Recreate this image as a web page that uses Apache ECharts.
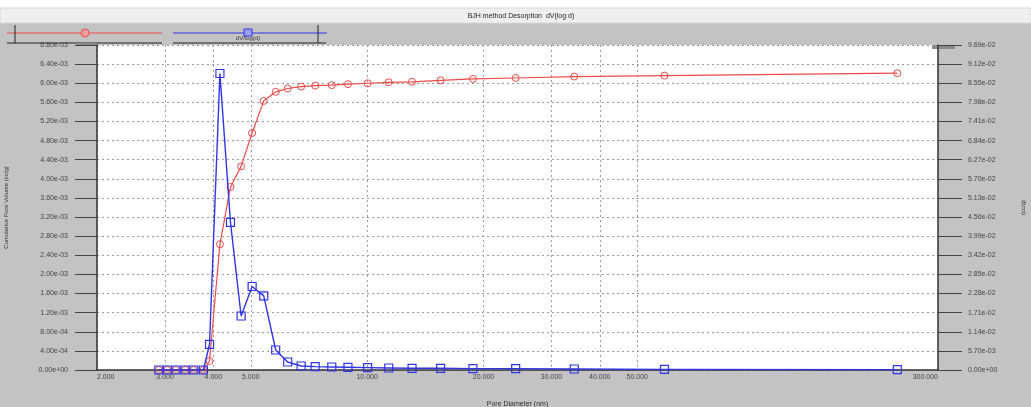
<!DOCTYPE html>
<html>
<head>
<meta charset="utf-8">
<script src="https://cdn.jsdelivr.net/npm/echarts@6/dist/echarts.min.js"></script>
<style>
html,body{margin:0;padding:0;background:#c3c3c3;}
#chart{width:1031px;height:407px;}
</style>
</head>
<body>
<div id="chart"></div>
<script>
// ---- data ----
const poreDiameter = [2.89, 3.04, 3.20, 3.38, 3.56, 3.77, 3.91, 4.16, 4.43, 4.72, 5.04, 5.40, 5.80, 6.23, 6.75, 7.34, 8.10, 8.92, 10.03, 11.37, 13.07, 15.49, 18.78, 24.23, 34.34, 58.8, 235.4];
const cumulativeVolume = [0, 0, 0, 0, 0, 0, 1.88e-4, 2.63e-3, 3.83e-3, 4.26e-3, 4.96e-3, 5.63e-3, 5.82e-3, 5.89e-3, 5.93e-3, 5.95e-3, 5.96e-3, 5.98e-3, 6.00e-3, 6.02e-3, 6.03e-3, 6.06e-3, 6.09e-3, 6.11e-3, 6.14e-3, 6.16e-3, 6.21e-3];
const dVlogd = [0, 0, 0, 0, 0, 0, 7.67e-3, 8.84e-2, 4.40e-2, 1.61e-2, 2.49e-2, 2.21e-2, 5.97e-3, 2.39e-3, 1.19e-3, 1.0e-3, 9e-4, 8e-4, 7e-4, 6e-4, 5e-4, 5e-4, 4e-4, 4e-4, 3e-4, 2e-4, 1e-4];
const xTicks = [2, 3, 4, 5, 10, 20, 30, 40, 50, 300];
const leftMax = 6.8e-3, leftStep = 4e-4;
const rightMax = 9.69e-2, rightStep = 5.7e-3;
const titleText = 'BJH method Desorption  dV(log d)';
const legendBlueText = 'dV/log(d)';
const xName = 'Pore Diameter (nm)';
const leftName = 'Cumulative Pore Volume (cc/g)';
const rightName = '(cc/g)';

function sci(v) {
  const s = Number(v).toExponential(2);
  const parts = s.split('e');
  let sign = parts[1][0];
  let d = parts[1].slice(1);
  if (d.length < 2) d = '0' + d;
  return parts[0] + 'e' + sign + d;
}

const FONT = 'Liberation Sans';
const chart = echarts.init(document.getElementById('chart'), null, {renderer: 'canvas'});
const RED = '#ee4a4a', BLUE = '#2f35e6';

const option = {
  backgroundColor: '#c3c3c3',
  animation: false,
  textStyle: {fontFamily: FONT},
  grid: {left: 97, right: 93, top: 45, bottom: 37, show: true, backgroundColor: '#ffffff', borderWidth: 0,
         containLabel: false, outerBoundsMode: 'none'},
  xAxis: {
    type: 'log', logBase: 10, min: 2, max: 300,
    name: xName, nameLocation: 'middle', nameGap: 31,
    nameTextStyle: {fontSize: 7, color: '#333'},
    axisLine: {onZero: false, lineStyle: {color: '#333', width: 1.5}},
    axisTick: {show: false, customValues: xTicks},
    axisLabel: {customValues: xTicks, fontSize: 7, color: '#444', margin: 4,
      formatter: v => Number(v).toFixed(3), alignMinLabel: 'left', alignMaxLabel: 'right', showMinLabel: true, showMaxLabel: true},
    splitLine: {show: true, lineStyle: {color: '#9a9a9a', type: [2, 3], width: 1}},
    minorTick: {show: false}, minorSplitLine: {show: false}
  },
  yAxis: [
    {
      type: 'value', min: 0, max: leftMax, interval: leftStep, position: 'left',
      name: leftName, nameLocation: 'middle', nameGap: 88,
      nameTextStyle: {fontSize: 6, color: '#333'},
      axisLine: {show: true, lineStyle: {color: '#333', width: 1.5}},
      axisTick: {show: true, length: 22, lineStyle: {color: '#444'}},
      axisLabel: {fontSize: 7, color: '#444', margin: 29, formatter: sci},
      splitLine: {show: true, lineStyle: {color: '#9a9a9a', type: [2, 3], width: 1}}
    },
    {
      type: 'value', min: 0, max: rightMax, interval: rightStep, position: 'right',
      name: rightName, nameLocation: 'middle', nameGap: 82,
      nameTextStyle: {fontSize: 6, color: '#333'},
      axisLine: {show: true, lineStyle: {color: '#333', width: 1.5}},
      axisTick: {show: true, length: 24, lineStyle: {color: '#444'}},
      axisLabel: {fontSize: 7, color: '#444', margin: 30, formatter: sci},
      splitLine: {show: false}
    }
  ],
  series: [
    {
      name: 'Cumulative', type: 'line', yAxisIndex: 0,
      data: poreDiameter.map((x, i) => [x, cumulativeVolume[i]]),
      symbol: 'circle', symbolSize: 7, showAllSymbol: true,
      itemStyle: {color: 'rgba(255,255,255,0)', borderColor: RED, borderWidth: 1},
      lineStyle: {color: RED, width: 1.2}, z: 3
    },
    {
      name: 'dV/log(d)', type: 'line', yAxisIndex: 1,
      data: poreDiameter.map((x, i) => [x, dVlogd[i]]),
      symbol: 'rect', symbolSize: 8, showAllSymbol: true,
      itemStyle: {color: 'rgba(255,255,255,0)', borderColor: BLUE, borderWidth: 1.2},
      lineStyle: {color: BLUE, width: 1.4}, z: 4
    }
  ],
  graphic: [
    {type: 'rect', shape: {x: 0, y: 0, width: 1031, height: 8}, style: {fill: '#ffffff'}, silent: true},
    {type: 'rect', shape: {x: 0, y: 8, width: 1031, height: 15}, style: {fill: '#efefef', stroke: '#d8d8d8', lineWidth: 1}, silent: true},
    {type: 'text', x: 521, y: 16, style: {text: titleText, font: '7px "Liberation Sans"', fill: '#222', align: 'center', verticalAlign: 'middle'}, silent: true},
    // legend decoration
    {type: 'line', shape: {x1: 7, y1: 33, x2: 162, y2: 33}, style: {stroke: RED, lineWidth: 1.2}, silent: true},
    {type: 'circle', shape: {cx: 85, cy: 33, r: 4}, style: {fill: '#f4a0a0', stroke: RED, lineWidth: 1}, silent: true},
    {type: 'line', shape: {x1: 173, y1: 33, x2: 327, y2: 33}, style: {stroke: BLUE, lineWidth: 1.2}, silent: true},
    {type: 'rect', shape: {x: 244, y: 29, width: 8, height: 7}, style: {fill: '#9aa0f0', stroke: BLUE, lineWidth: 1}, silent: true},
    {type: 'text', x: 248, y: 38.5, style: {text: legendBlueText, font: '6px "Liberation Sans"', fill: '#333', align: 'center', verticalAlign: 'middle'}, silent: true},
    {type: 'line', shape: {x1: 7, y1: 43, x2: 162, y2: 43}, style: {stroke: '#222', lineWidth: 1}, silent: true},
    {type: 'line', shape: {x1: 173, y1: 43, x2: 326, y2: 43}, style: {stroke: '#222', lineWidth: 1}, silent: true},
    {type: 'line', shape: {x1: 15, y1: 25, x2: 15, y2: 43}, style: {stroke: '#222', lineWidth: 1}, silent: true},
    {type: 'line', shape: {x1: 318, y1: 25, x2: 318, y2: 43}, style: {stroke: '#222', lineWidth: 1}, silent: true},
    {type: 'rect', shape: {x: 76, y: 43, width: 21, height: 3}, style: {fill: '#8a8a8a'}, silent: true},
    {type: 'rect', shape: {x: 932, y: 45, width: 23, height: 4}, style: {fill: '#8a8a8a'}, silent: true}
  ]
};
chart.setOption(option);
</script>
</body>
</html>
